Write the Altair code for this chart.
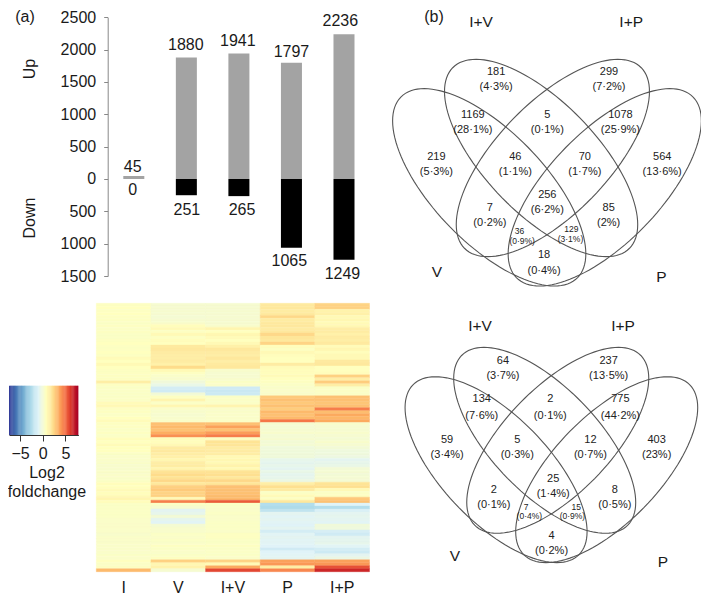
import altair as alt
import numpy as np
import pandas as pd

FONT = "Liberation Sans"
W, H = 693, 588

# ---------- bar panel ----------
conds = ["I", "V", "I+V", "P", "I+P"]
up = [45, 1880, 1941, 1797, 2236]
down = [0, 251, 265, 1065, 1249]
bar_labels = ["45", "1880", "1941", "1797", "2236", "0", "251", "265", "1065", "1249"]
bar_label_pos = [-0.02, 0.99, 1.98, 3.0, 3.93, -0.02, 1.01, 2.06, 2.96, 3.97]
bar_label_y = [179, 2072, 2139, 1960, 2443, -176, -474, -474, -1271, -1466]
axis_ticks = [2500, 2000, 1500, 1000, 500, 0, -500, -1000, -1500]

BAR_Y = alt.Scale(domain=[-1500, 2500], range=[268, 9.3], nice=False, zero=False)
BAR_X = alt.Scale(domain=conds, range=[115.3, 346.5], paddingInner=0.6, paddingOuter=0)
POS_X = alt.Scale(domain=[0, 4], range=[125.8, 336], nice=False, zero=False)

bar_df = pd.DataFrame({"cond": conds, "up": up, "down": [-d for d in down]})
up_bars = alt.Chart(bar_df).mark_bar(color="#a3a3a3").encode(
    x=alt.X("cond:N", scale=BAR_X, axis=None, sort=conds),
    y=alt.Y("up:Q", scale=BAR_Y, axis=alt.Axis(
        orient="left", offset=-99.7, values=axis_ticks, labelExpr="abs(datum.value)",
        title=None, grid=False, domainColor="#888888", tickColor="#888888", tickSize=4,
        labelFont=FONT, labelFontSize=16, labelColor="#1a1a1a", labelPadding=8)),
)
down_bars = alt.Chart(bar_df).mark_bar(color="#000000").encode(
    x=alt.X("cond:N", scale=BAR_X, axis=None, sort=conds),
    y=alt.Y("down:Q", scale=BAR_Y, axis=None),
)
bar_text = alt.Chart(pd.DataFrame({"t": bar_labels, "p": bar_label_pos, "y": bar_label_y})).mark_text(
    font=FONT, fontSize=16, color="#1a1a1a", baseline="middle").encode(
    x=alt.X("p:Q", scale=POS_X, axis=None),
    y=alt.Y("y:Q", scale=BAR_Y, axis=None),
    text="t:N",
)

def note(text, x, y, size=16, angle=0):
    return alt.Chart(pd.DataFrame({"t": [text]})).mark_text(
        font=FONT, fontSize=size, color="#1a1a1a", angle=angle, baseline="middle", align="center"
    ).encode(x=alt.value(x), y=alt.value(y), text="t:N")

# ---------- heat map ----------
col_I = [.6,.7,.6,.7,.6,.6,.5,.6,.5,.6,
         .5,.5,.6,.7,.6,.6,.7,.6,.9,.7,
         1.0,.7,.6,.6,.6,.6,1.5,.6,.5,.5,
         .5,.5,.5,.9,1.0,.6,.6,.5,.7,.9,
         .6,.6,.5,.6,.5,.8,.7,.9,.7,.7,
         .5,.4,.4,.4,.3,.3,.4,.4,.4,.5,
         .8,.7,.9,.8,.9,1.2,.8,.5,.5,.5,
         .5,.5,.4,.4,.4,.4,.4,.3,.4,.4,
         .4,.4,.4,.4,.5,.4,.7,.5,.6,3.2]
col_V = [.2,.2,.2,.2,.1,.2,.3,.8,1.0,.6,
         1.0,.6,.8,.7,1.7,1.8,1.6,1.5,1.5,1.6,
         1.4,2.3,1.0,.6,.4,.3,-.1,-.5,-1.4,-1.5,
         .0,.6,1.2,.5,1.1,.4,.3,.2,.3,.4,
         3.0,3.2,3.0,3.5,4.2,.8,.8,1.0,1.6,1.7,
         1.5,1.4,1.1,1.5,1.6,1.2,2.0,2.3,2.0,2.4,
         1.8,2.6,2.8,2.5,2.6,1.0,4.6,.5,.2,-.8,
         -.6,.0,-.7,-.9,.1,.3,.3,.5,.4,.5,
         .4,.6,.5,.4,.5,.6,2.6,1.1,1.3,.2]
col_IV = [.2,.2,.2,.2,.2,.2,.2,.3,1.2,.7,
          1.1,.9,.7,1.0,1.4,1.8,1.6,1.5,1.8,1.5,
          1.7,1.8,.3,.2,.2,.3,.5,.4,-1.5,-1.7,
          -1.6,.5,.5,.5,1.2,.4,.4,.4,.4,.5,
          3.0,3.8,3.0,3.9,4.6,.6,2.0,1.9,1.6,1.6,
          1.5,1.0,1.1,1.0,1.3,1.0,2.0,2.2,1.8,2.4,
          1.9,3.0,3.0,3.0,3.1,3.2,5.4,.5,.4,.4,
          .5,.4,.4,.5,.5,.5,.4,.6,.6,.5,
          .5,.6,.5,.5,.5,.4,2.5,1.0,3.6,5.8]
col_P = [1.7,1.8,1.6,1.7,2.4,1.6,1.7,1.8,1.6,1.8,
         2.4,1.9,1.8,2.5,.8,.6,1.0,.8,.7,.7,
         1.6,.9,.8,.8,.9,.7,.6,.5,.4,.4,
         .4,2.8,3.0,2.8,3.0,2.7,3.2,3.0,3.2,4.8,
         .2,.1,.2,.3,.1,.2,.0,.1,-.2,-.1,
         -.1,-.1,-.6,-.7,-.6,-.8,-.5,-.7,-.6,-.4,
         1.5,2.2,1.7,.5,.9,.6,1.8,-2.4,-2.6,-2.0,
         -.8,-.9,-.8,-.9,-1.0,-.8,-1.4,-.9,-.8,-.9,
         -.9,-1.0,-1.5,-1.0,-.9,-.8,3.8,4.0,1.5,4.4]
col_IP = [2.5,2.6,1.3,1.4,1.0,1.1,.9,1.0,1.5,1.6,
          1.4,1.6,1.5,1.7,.9,1.1,.8,1.0,1.0,1.7,
          1.8,.7,.7,.8,2.6,1.5,2.7,1.5,.5,.5,
          .5,3.0,3.0,2.9,3.0,4.6,3.1,3.6,3.3,3.6,
          .3,.2,.2,.3,.2,.1,.3,.2,.0,-.2,
          -.2,-.3,-.8,-.6,-.5,.0,.1,.0,.1,.1,
          2.0,2.2,1.0,.5,.6,2.8,3.0,-1.0,-2.4,-1.2,
          -.8,-.7,-.8,-.9,-.1,-.2,-1.3,-1.5,-.8,-.7,
          -.6,-.9,-1.4,-1.6,-.8,-.4,3.8,4.0,5.6,6.6]
columns = [col_I, col_V, col_IV, col_P, col_IP]

color_domain = [-7.5, -5.9, -4.3, -2.7, -1.0, 0.7, 2.2, 3.5, 5.0, 6.3, 7.8]
color_range = ["#313695", "#4575b4", "#74add1", "#abd9e9", "#e0f3f8", "#ffffbf",
               "#fee090", "#fdae61", "#f46d43", "#d73027", "#a50026"]
COLOR = alt.Scale(domain=color_domain, range=color_range, interpolate="rgb")

n_rows = len(col_I)
heat_df = pd.DataFrame([{"cond": c, "row": i, "v": col[i]}
                        for c, col in zip(conds, columns) for i in range(n_rows)])
HEAT_X = alt.Scale(domain=conds, range=[88.3, 361.5], paddingInner=0, paddingOuter=0)
heat = alt.Chart(heat_df).mark_rect(strokeWidth=0.4).encode(
    x=alt.X("cond:N", scale=HEAT_X, axis=None, sort=conds),
    y=alt.Y("row:O", scale=alt.Scale(domain=list(range(n_rows)), range=[295.3, 563.7],
                                     paddingInner=0, paddingOuter=0), axis=None),
    color=alt.Color("v:Q", scale=COLOR, legend=None),
    stroke=alt.Stroke("v:Q", scale=COLOR, legend=None),
)
heat_labels = alt.Chart(pd.DataFrame({"cond": conds})).mark_text(
    font=FONT, fontSize=16, color="#1a1a1a", baseline="middle").encode(
    x=alt.X("cond:N", scale=HEAT_X, axis=None, sort=conds),
    y=alt.value(580),
    text="cond:N",
)

# ---------- colour key ----------
key_edges = np.linspace(-7.44, 7.8, 61)
key_df = pd.DataFrame({"a": key_edges[:-1], "b": key_edges[1:] + 0.08})
key_df["v"] = (key_edges[:-1] + key_edges[1:]) / 2
KEY_X = alt.Scale(domain=[-7.44, 7.88], range=[1, 70.4], nice=False, zero=False)
key = alt.Chart(key_df).mark_rect(stroke=None).encode(
    x=alt.X("a:Q", scale=KEY_X, axis=alt.Axis(
        orient="bottom", offset=-161, values=[-5, 0, 5], labelExpr="replace(datum.label,'-','\u2212')",
        title=None, grid=False, domainColor="#333333", tickColor="#333333", tickSize=6,
        labelFont=FONT, labelFontSize=16, labelColor="#1a1a1a", labelPadding=4)),
    x2="b:Q",
    y=alt.value(377.7),
    y2=alt.value(427),
    color=alt.Color("v:Q", scale=COLOR, legend=None),
)

# ---------- Venn diagrams ----------
def outline(cx, cy, a, b, sign):
    t = np.deg2rad(np.arange(0, 361, 3))
    c = np.sqrt(0.5)
    x = cx + a * np.cos(t) * c - sign * b * np.sin(t) * c
    y = cy + sign * a * np.cos(t) * c + b * np.sin(t) * c
    return x, y

def venn(ellipses, a, b, y_domain, y_range, counts, count_x, count_y, pcts, pct_x, pct_y, small, sets, set_x, set_y):
    sx = alt.Scale(domain=[0, 1017], range=[362.1, 694], nice=False, zero=False)
    sy = alt.Scale(domain=y_domain, range=y_range, nice=False, zero=False)
    parts = []
    for cx, cy, sign in ellipses:
        x, y = outline(cx, cy, a, b, sign)
        d = pd.DataFrame({"x": x, "y": y, "o": range(len(x))})
        parts.append(alt.Chart(d).mark_line(color="#555555", strokeWidth=1.1).encode(
            x=alt.X("x:Q", scale=sx, axis=None),
            y=alt.Y("y:Q", scale=sy, axis=None),
            order="o:Q"))
    for labels, xs, ys in ((counts, count_x, count_y), (pcts, pct_x, pct_y)):
        d = pd.DataFrame({"t": labels, "x": xs, "y": ys, "s": small})
        parts.append(alt.Chart(d).mark_text(font=FONT, color="#222222", baseline="middle").encode(
            x=alt.X("x:Q", scale=sx, axis=None),
            y=alt.Y("y:Q", scale=sy, axis=None),
            text="t:N",
            size=alt.Size("s:N", scale=alt.Scale(domain=[0, 1], range=[11, 8.5]), legend=None)))
    d = pd.DataFrame({"t": sets, "x": set_x, "y": set_y})
    parts.append(alt.Chart(d).mark_text(font=FONT, color="#1a1a1a", fontSize=15.5, baseline="middle").encode(
        x=alt.X("x:Q", scale=sx, axis=None),
        y=alt.Y("y:Q", scale=sy, axis=None),
        text="t:N"))
    return parts

set_names = ["I+V", "I+P", "V", "P"]

top_counts = ["181","299","1169","5","1078","219","46","70","564","7","256","85","36","129","18"]
top_count_x = [386,732,315,543,767,203,445,658,895,367,543,731,458,617,533]
top_count_y = [217,217,345,345,345,472,472,472,472,624,585,624,692,686,766]
top_pcts = ["(4·3%)","(7·2%)","(28·1%)","(0·1%)","(25·9%)","(5·3%)","(1·1%)","(1·7%)","(13·6%)",
            "(0·2%)","(6·2%)","(2%)","(0·9%)","(3·1%)","(0·4%)"]
top_pct_x = [386,732,315,543,767,203,445,658,895,367,543,731,466,614,533]
top_pct_y = [262,262,390,390,390,517,517,517,517,669,630,669,722,716,812]
top_small = [0,0,0,0,0,0,0,0,0,0,0,0,1,1,0]

bot_counts = ["64","237","134","2","775","59","5","12","403","2","25","8","7","15","4"]
bot_count_x = [407,731,342,552,767,236,451,675,878,379,561,750,478,632,556]
bot_count_y = [183,183,297,297,297,421,421,421,421,570,538,570,622,622,708]
bot_pcts = ["(3·7%)","(13·5%)","(7·6%)","(0·1%)","(44·2%)","(3·4%)","(0·3%)","(0·7%)","(23%)",
            "(0·1%)","(1·4%)","(0·5%)","(0·4%)","(0·9%)","(0·2%)"]
bot_pct_x = [407,731,342,552,767,236,451,675,878,379,561,750,488,620,556]
bot_pct_y = [228,228,347,347,347,466,466,466,466,615,582,615,648,648,753]
bot_small = [0,0,0,0,0,0,0,0,0,0,0,0,1,1,0]

venn_top = venn([(365, 562, 1), (719, 562, -1), (524, 474, 1), (560, 474, -1)], 383, 169,
                [0, 885], [-8, 287], top_counts, top_count_x, top_count_y,
                top_pcts, top_pct_x, top_pct_y, top_small,
                set_names, [340, 800, 205, 893], [65, 65, 815, 832])
venn_bot = venn([(386, 509, 1), (725, 509, -1), (535, 421, 1), (575, 421, -1)], 360, 161,
                [0, 894], [292, 590], bot_counts, bot_count_x, bot_count_y,
                bot_pcts, bot_pct_x, bot_pct_y, bot_small,
                set_names, [337, 775, 260, 897], [77, 77, 768, 787])

layers = [up_bars, down_bars, bar_text,
          note("(a)", 17, 9), note("(b)", 426, 9),
          note("Up", 22, 61, angle=270), note("Down", 22, 210, angle=270),
          heat, heat_labels, key,
          note("Log2", 39, 465), note("foldchange", 39, 484)] + venn_top + venn_bot

chart = alt.layer(*layers).resolve_scale(
    x="independent", y="independent", color="independent", size="independent", stroke="independent"
).properties(
    width=W, height=H, padding=0, autosize=alt.AutoSizeParams(type="none")
).configure_view(stroke=None)

chart.save("out.html", embed_options={"renderer": "svg", "actions": False})
